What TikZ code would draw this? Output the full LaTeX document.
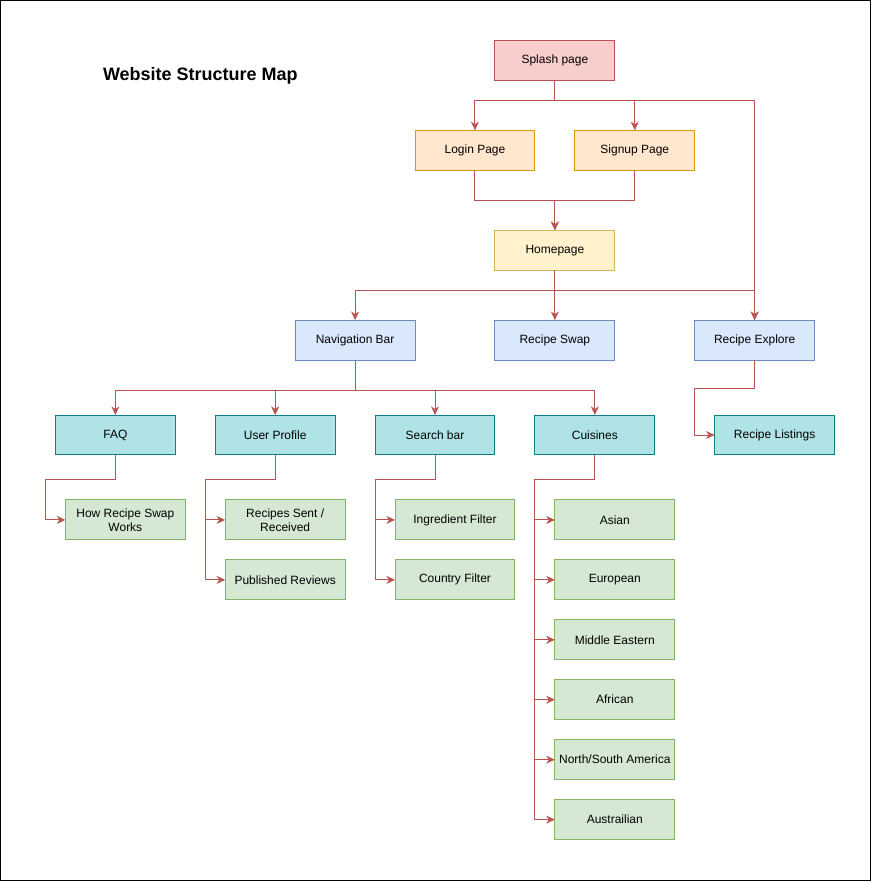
\documentclass[tikz,border=0pt]{standalone}
\usepackage{fontspec}
\setmainfont{Liberation Sans}
\usepackage{tikz}
\usetikzlibrary{positioning}
\usetikzlibrary{arrows.meta}

\definecolor{splashfill}{HTML}{F8CECC}
\definecolor{splashdraw}{HTML}{B85450}
\definecolor{authfill}{HTML}{FFE6CC}
\definecolor{authdraw}{HTML}{D79B00}
\definecolor{homefill}{HTML}{FFF2CC}
\definecolor{homedraw}{HTML}{D6B656}
\definecolor{mainfill}{HTML}{DAE8FC}
\definecolor{maindraw}{HTML}{6C8EBF}
\definecolor{subfill}{HTML}{B0E3E6}
\definecolor{subdraw}{HTML}{0E8088}
\definecolor{leaffill}{HTML}{D5E8D4}
\definecolor{leafdraw}{HTML}{82B366}
\definecolor{linkcol}{HTML}{B85450}

\tikzset{
    page/.style={rectangle, minimum width=90pt, minimum height=30pt, inner sep=1pt,
        outer sep=0pt, line width=0.75pt, align=center,
        font=\fontsize{9pt}{10.5pt}\selectfont},
    splashbox/.style={page, fill=splashfill, draw=splashdraw},
    authbox/.style={page, fill=authfill, draw=authdraw},
    homebox/.style={page, fill=homefill, draw=homedraw},
    mainbox/.style={page, fill=mainfill, draw=maindraw},
    subbox/.style={page, fill=subfill, draw=subdraw},
    leafbox/.style={page, fill=leaffill, draw=leafdraw},
    link/.style={draw=linkcol, line width=0.75pt,
        -{Stealth[length=6.5pt, width=6pt, inset=2pt]}},
}

\begin{document}
\begin{tikzpicture}
    % frame
    \draw[line width=0.75pt] (0,0) rectangle (653.25pt,-660.75pt);
    \useasboundingbox (0,0) rectangle (653.25pt,-660.75pt);

    \node[font=\bfseries\fontsize{13.5pt}{16pt}\selectfont] (title) at (150pt,-56.6pt) {Website Structure Map};

    \node[splashbox] (splash) at (416.25pt,-45pt) {Splash page};
    \node[authbox, below=37.5pt of splash, xshift=-60pt] (login) {Login Page};
    \node[authbox, right=30pt of login] (signup) {Signup Page};
    \node[homebox, below=45pt of login, xshift=60pt] (home) {Homepage};

    \node[mainbox, below=37.5pt of home] (swap) {Recipe Swap};
    \node[mainbox, left=60pt of swap] (navbar) {Navigation Bar};
    \node[mainbox, right=60pt of swap] (explore) {Recipe Explore};

    \node[subbox, below=41.25pt of navbar, xshift=-180pt] (faq) {FAQ};
    \node[subbox, right=30pt of faq] (profile) {User Profile};
    \node[subbox, right=30pt of profile] (search) {Search bar};
    \node[subbox, right=30pt of search] (cuisines) {Cuisines};
    \node[subbox, below=41.25pt of explore, xshift=15pt] (listings) {Recipe Listings};

    \node[leafbox, below=33.75pt of faq, xshift=7.5pt] (howto) {How Recipe Swap\\Works};
    \node[leafbox, below=33.75pt of profile, xshift=7.5pt] (sent) {Recipes Sent /\\Received};
    \node[leafbox, below=15pt of sent] (reviews) {Published Reviews};
    \node[leafbox, below=33.75pt of search, xshift=15pt] (ingredient) {Ingredient Filter};
    \node[leafbox, below=15pt of ingredient] (country) {Country Filter};

    \node[leafbox, below=33.75pt of cuisines, xshift=15pt] (c1) {Asian};
    \foreach \name [count=\i from 2, evaluate=\i as \prev using int(\i-1)] in
        {European, Middle Eastern, African, North/South America, Austrailian}
        \node[leafbox, below=15pt of c\prev] (c\i) {\name};

    % top levels
    \draw[link] (splash.south) -- ++(0,-15pt) -| (login.north);
    \draw[link] (splash.south) -- ++(0,-15pt) -| (signup.north);
    \draw[link] (splash.south) -- ++(0,-15pt) -| (explore.north);
    \draw[link] (login.south) -- ++(0,-22.5pt) -| (home.north);
    \draw[link] (signup.south) -- ++(0,-22.5pt) -| (home.north);
    \draw[link] (home.south) -- ++(0,-15pt) -| (navbar.north);
    \draw[link] (home.south) -- (swap.north);
    \draw[link] (home.south) -- ++(0,-15pt) -| (explore.north);

    % navigation bar
    \foreach \child in {faq, profile, search, cuisines}
        \draw[link] (navbar.south) -- ++(0,-22.5pt) -| (\child.north);
    \draw[link] (explore.south) -- ++(0,-21pt) -| ([xshift=-15pt]listings.west) -- (listings.west);

    % leaves
    \draw[link] (faq.south) -- ++(0,-18.75pt) -| ([xshift=-15pt]howto.west) -- (howto.west);
    \foreach \child in {sent, reviews}
        \draw[link] (profile.south) -- ++(0,-18.75pt) -| ([xshift=-15pt]\child.west) -- (\child.west);
    \foreach \child in {ingredient, country}
        \draw[link] (search.south) -- ++(0,-18.75pt) -| ([xshift=-15pt]\child.west) -- (\child.west);
    \foreach \i in {1,...,6}
        \draw[link] (cuisines.south) -- ++(0,-18.75pt) -| ([xshift=-15pt]c\i.west) -- (c\i.west);
\end{tikzpicture}
\end{document}
